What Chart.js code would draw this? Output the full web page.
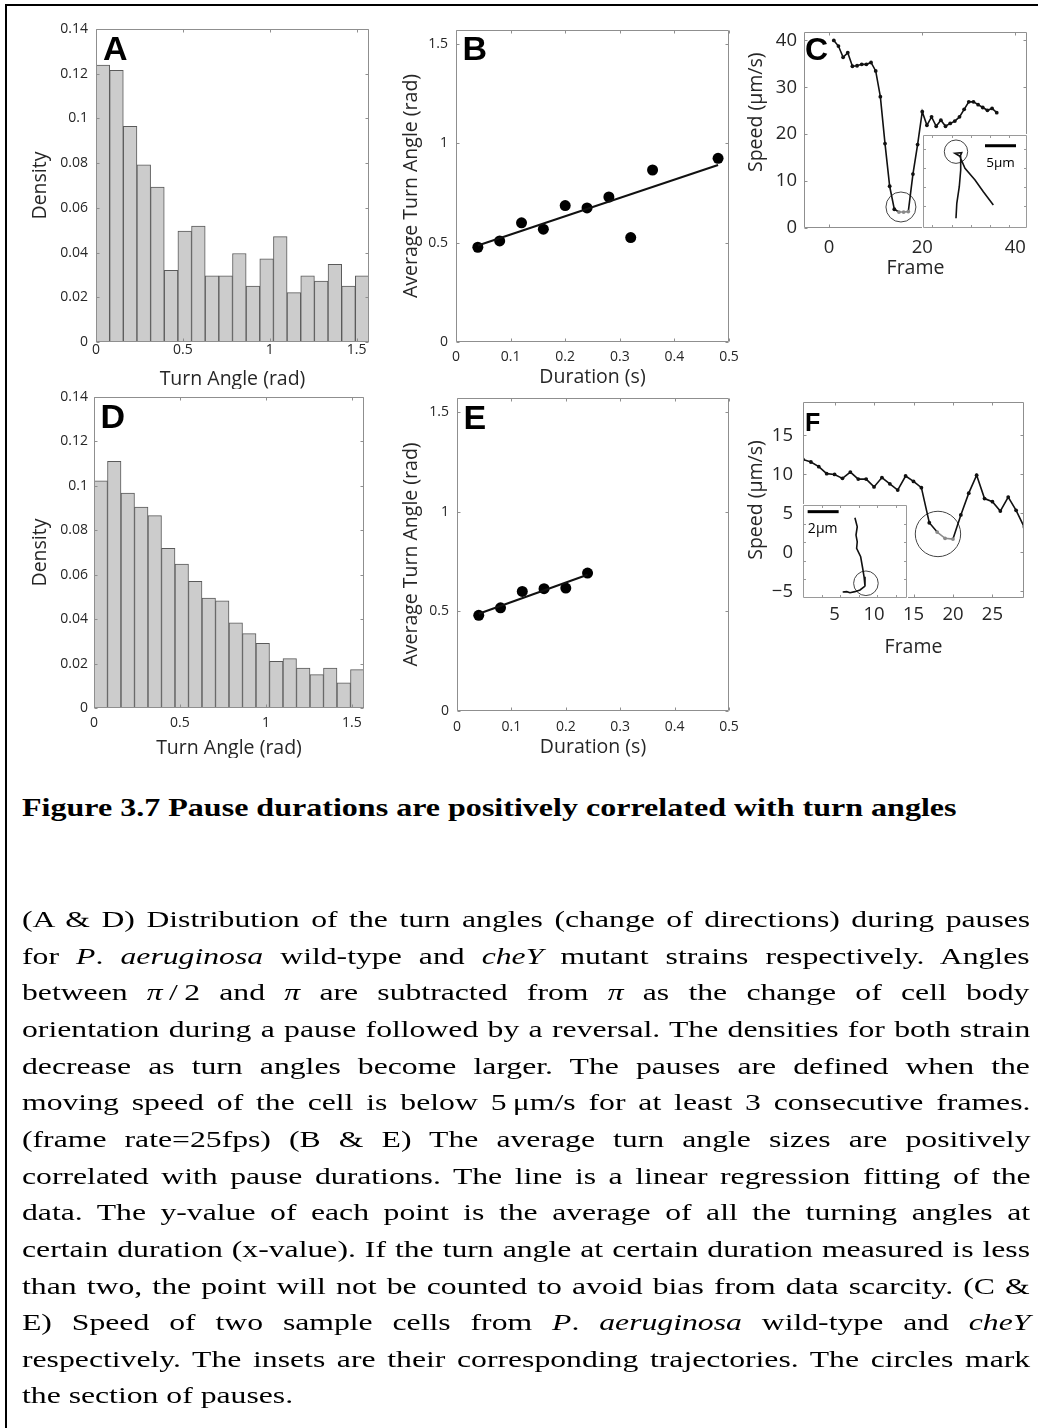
<!DOCTYPE html>
<html>
<head>
<meta charset="utf-8">
<script src="https://cdn.jsdelivr.net/npm/chart.js@4.4.1/dist/chart.umd.min.js"></script>
<style>
  html, body { margin: 0; padding: 0; background: #fff; }
  body { width: 1038px; height: 1428px; position: relative; overflow: hidden; }
  #frame { position: absolute; left: 5px; top: 4px; width: 1100px; height: 1500px;
           border-left: 2px solid #000; border-top: 2px solid #000; }
  canvas { position: absolute; }
  canvas.inset { background: #fff; z-index: 2; }
  .serif { font-family: "Liberation Serif", "Times New Roman", serif; color: #000; }
  #caption { position: absolute; left: 21.7px; top: 0; width: 1100px; height: 1428px; transform-origin: 0 0; }
  #title { position: absolute; left: 21.7px; top: 0; font-weight: bold; line-height: 1; white-space: nowrap; transform-origin: 0 0; }
  .ln { position: absolute; left: 0; line-height: 36.7px; height: 36.7px; white-space: nowrap; }
  .bl { display: inline-block; width: 0; height: 0; vertical-align: baseline; }
</style>
</head>
<body>
<div id="frame"></div>

<canvas id="chartA"></canvas>
<canvas id="chartB"></canvas>
<canvas id="chartC"></canvas>
<canvas id="chartD"></canvas>
<canvas id="chartE"></canvas>
<canvas id="chartF"></canvas>
<canvas id="insetC" class="inset"></canvas>
<canvas id="insetF" class="inset"></canvas>

<div id="title" class="serif">Figure 3.7 Pause durations are positively correlated with turn angles<span class="bl"></span></div>
<div id="caption" class="serif">
  <div class="ln"><span>(A &amp; D) Distribution of the turn angles (change of directions) during pauses</span><span class="bl"></span></div>
  <div class="ln"><span>for <i>P</i>. <i>aeruginosa</i> wild-type and <i>cheY</i> mutant strains respectively. Angles</span><span class="bl"></span></div>
  <div class="ln"><span>between <i>π</i>&#8201;/&#8201;2 and <i>π</i> are subtracted from <i>π</i> as the change of cell body</span><span class="bl"></span></div>
  <div class="ln"><span>orientation during a pause followed by a reversal. The densities for both strain</span><span class="bl"></span></div>
  <div class="ln"><span>decrease as turn angles become larger. The pauses are defined when the</span><span class="bl"></span></div>
  <div class="ln"><span>moving speed of the cell is below 5&#8201;μm/s for at least 3 consecutive frames.</span><span class="bl"></span></div>
  <div class="ln"><span>(frame rate=25fps) (B &amp; E) The average turn angle sizes are positively</span><span class="bl"></span></div>
  <div class="ln"><span>correlated with pause durations. The line is a linear regression fitting of the</span><span class="bl"></span></div>
  <div class="ln"><span>data. The y-value of each point is the average of all the turning angles at</span><span class="bl"></span></div>
  <div class="ln"><span>certain duration (x-value). If the turn angle at certain duration measured is less</span><span class="bl"></span></div>
  <div class="ln"><span>than two, the point will not be counted to avoid bias from data scarcity. (C &amp;</span><span class="bl"></span></div>
  <div class="ln"><span>E) Speed of two sample cells from <i>P</i>. <i>aeruginosa</i> wild-type and <i>cheY</i></span><span class="bl"></span></div>
  <div class="ln"><span>respectively. The insets are their corresponding trajectories. The circles mark</span><span class="bl"></span></div>
  <div class="ln last"><span>the section of pauses.</span><span class="bl"></span></div>
</div>

<script>
// ---- data ----
// histogram bin centres (20 bins of pi/40 between 0 and pi/2)
const binCenters = [0.0393, 0.1178, 0.1963, 0.2749, 0.3534, 0.4320, 0.5105, 0.5890, 0.6676, 0.7461,
                    0.8247, 0.9032, 0.9817, 1.0603, 1.1388, 1.2174, 1.2959, 1.3744, 1.4530, 1.5315];
const densityA = [0.1239, 0.1215, 0.0965, 0.0792, 0.0693, 0.0321, 0.0496, 0.0518, 0.0296, 0.0296,
                  0.0396, 0.0250, 0.0372, 0.0471, 0.0221, 0.0296, 0.0273, 0.0347, 0.0250, 0.0296];
const densityD = [0.1023, 0.1110, 0.0968, 0.0905, 0.0866, 0.0719, 0.0648, 0.0570, 0.0495, 0.0482,
                  0.0383, 0.0335, 0.0291, 0.0210, 0.0222, 0.0180, 0.0150, 0.0180, 0.0113, 0.0173];

const durationB = [0.04, 0.08, 0.12, 0.16, 0.20, 0.24, 0.28, 0.32, 0.36, 0.48];
const angleB = [0.477, 0.509, 0.600, 0.568, 0.687, 0.675, 0.730, 0.526, 0.866, 0.925];
const fitDurB = [0.04, 0.48];
const fitAngleB = [0.486, 0.891];

const durationE = [0.04, 0.08, 0.12, 0.16, 0.20, 0.24];
const angleE = [0.480, 0.518, 0.600, 0.614, 0.617, 0.692];
const fitDurE = [0.04, 0.24];
const fitAngleE = [0.488, 0.684];

const frameC = [1, 2, 3, 4, 5, 6, 7, 8, 9, 10, 11, 12, 13, 14, 15, 16, 17, 18,
                19, 20, 21, 22, 23, 24, 25, 26, 27, 28, 29, 30, 31, 32, 33, 34, 35, 36];
const speedC = [40.0, 38.8, 36.4, 37.4, 34.5, 34.6, 34.9, 34.9, 35.3, 33.5, 28.0, 18.0, 8.9, 4.0, 3.4, 3.4, 3.5, 11.5,
                17.8, 24.8, 21.9, 23.7, 21.7, 23.0, 21.7, 22.3, 22.8, 23.7, 25.3, 26.9, 26.9, 26.3, 25.7, 25.1, 25.5, 24.6];
const pauseC = { frame: 15.42, speed: 4.48 };

const frameF = [1, 2, 3, 4, 5, 6, 7, 8, 9, 10, 11, 12, 13, 14, 15, 16, 17, 18, 19, 20, 21, 22, 23, 24, 25, 26, 27, 28, 29];
const speedF = [11.93, 11.6, 11.0, 10.1, 10.0, 9.5, 10.3, 9.4, 9.4, 8.4, 9.6, 8.8, 8.0, 9.8, 9.1, 8.3,
                3.8, 2.6, 1.8, 1.7, 4.8, 7.6, 9.9, 6.9, 6.5, 5.3, 7.1, 5.4, 3.3];
const pauseF = { frame: 18.1, speed: 2.36 };

// inset trajectories (micrometres)
const trajCx = [5.32, 5.45, 5.85, 6.08, 6.08, 5.16, 6.24, 5.97, 6.77, 8.39, 9.73, 11.34];
const trajCy = [1.56, 3.98, 6.66, 9.35, 11.5, 12.05, 12.15, 11.5, 9.63, 7.74, 5.85, 3.71];
const pauseTrajC = { x: 5.32, y: 12.31 };
const barC = { x: [10.0, 15.0], y: 13.27, label: '5μm', labelX: 12.5, labelY: 10.48 };

const trajFx = [3.35, 3.50, 3.42, 3.50, 3.46, 3.72, 3.85, 3.94, 4.00, 3.68, 3.35, 3.03, 2.82, 2.56];
const trajFy = [5.18, 4.60, 4.06, 3.63, 3.21, 2.66, 1.92, 1.37, 0.77, 0.52, 0.41, 0.34, 0.41, 0.39];
const pauseTrajF = { x: 4.06, y: 0.95 };
const barF = { x: [0.30, 2.30], y: 5.57, label: '2μm', labelX: 1.27, labelY: 4.45 };

// tick labels
const ticksAngle = [0, 0.5, 1, 1.5];
const ticksDensity = [0, 0.02, 0.04, 0.06, 0.08, 0.1, 0.12, 0.14];
const ticksDuration = [0, 0.1, 0.2, 0.3, 0.4, 0.5];
const ticksAvgAngle = [0, 0.5, 1, 1.5];
const ticksFrameC = [0, 20, 40];
const ticksSpeedC = [0, 10, 20, 30, 40];
const ticksFrameF = [5, 10, 15, 20, 25];
const ticksSpeedF = [-5, 0, 5, 10, 15];
const ticksInsetC = { x: [1.5, 4.6, 7.7, 10.8, 13.9], y: [3.5, 6.6, 9.7, 12.8] };
const ticksInsetF = { x: [1.2, 2.4, 3.6, 4.8, 6.0], y: [1.2, 2.4, 3.6, 4.8] };

// ---- style ----
const FONT = '"Open Sans", "Noto Sans", sans-serif';
const TXT = '#262626';
const BOX = '#8f8f8f';
const INK = '#111111';
const PAUSE = '#8a8a8a';
const pauseSpeed = 3.7;

const fmt = v => (v < 0 ? '\u2212' + (-v) : String(v));

// MATLAB style box with inward ticks on all four sides
const boxPlugin = {
  id: 'box',
  afterDatasetsDraw(chart, args, o) {
    if (!o || !o.color) return;
    const { ctx, chartArea: a, scales } = chart;
    const l = Math.round(a.left) + 0.5, r = Math.round(a.right) - 0.5;
    const t = Math.round(a.top) + 0.5, b = Math.round(a.bottom) - 0.5;
    ctx.save();
    ctx.strokeStyle = o.color;
    ctx.lineWidth = 1;
    ctx.beginPath();
    ctx.rect(l, t, r - l, b - t);
    (o.xTicks || []).forEach(v => {
      const x = Math.round(scales.x.getPixelForValue(v)) + 0.5;
      ctx.moveTo(x, b); ctx.lineTo(x, b - o.len);
      ctx.moveTo(x, t); ctx.lineTo(x, t + o.len);
    });
    (o.yTicks || []).forEach(v => {
      const y = Math.round(scales.y.getPixelForValue(v)) + 0.5;
      ctx.moveTo(l, y); ctx.lineTo(l + o.len, y);
      ctx.moveTo(r, y); ctx.lineTo(r - o.len, y);
    });
    ctx.stroke();
    ctx.restore();
  }
};

// bold panel letter and small text notes placed in data space
const letterPlugin = {
  id: 'letter',
  afterDraw(chart, args, o) {
    const { ctx, chartArea: a, scales } = chart;
    ctx.save();
    if (o && o.text) {
      ctx.font = 'bold ' + o.size + 'px "Liberation Sans", Arial, sans-serif';
      ctx.fillStyle = '#000';
      ctx.textBaseline = 'alphabetic';
      ctx.fillText(o.text, a.left + o.dx, a.top + o.dy);
    }
    if (o && o.notes) {
      o.notes.forEach(n => {
        ctx.font = n.size + 'px ' + FONT;
        ctx.fillStyle = '#000';
        ctx.textAlign = 'center';
        ctx.textBaseline = 'middle';
        ctx.fillText(n.text, scales.x.getPixelForValue(n.x), scales.y.getPixelForValue(n.y));
      });
    }
    ctx.restore();
  }
};

Chart.register(boxPlugin, letterPlugin);

function makePanel(id, g, ax, type, datasets) {
  const cv = document.getElementById(id);
  const left = Math.round(g.yTitleX - ax.titleSize / 2);
  const top = g.T - 14;
  const right = g.R + 16;
  const bottom = Math.round(g.xTitleY + ax.titleSize / 2);
  cv.width = right - left;
  cv.height = bottom - top;
  cv.style.left = left + 'px';
  cv.style.top = top + 'px';
  cv.style.width = (right - left) + 'px';
  cv.style.height = (bottom - top) + 'px';

  const tickFont = { family: FONT, size: ax.tickSize, lineHeight: 1.2 };
  const titleFont = { family: FONT, size: ax.titleSize, lineHeight: 1 };

  return new Chart(cv, {
    type: type,
    data: { datasets: datasets },
    options: {
      responsive: false,
      animation: false,
      events: [],
      layout: { autoPadding: false, padding: { left: 0, bottom: 0, top: g.T - top, right: right - g.R } },
      plugins: {
        legend: { display: false },
        tooltip: { enabled: false },
        box: { xTicks: ax.xTicks, yTicks: ax.yTicks, len: 3, color: BOX },
        letter: { text: g.letter, size: g.letterSize, dx: g.dx, dy: g.dy }
      },
      scales: {
        x: {
          type: 'linear', position: 'bottom', min: ax.xMin, max: ax.xMax, offset: false,
          grid: { display: false, drawTicks: false, offset: false }, border: { display: false },
          afterBuildTicks: s => { s.ticks = ax.xTicks.map(v => ({ value: v })); },
          afterFit: s => { s.height = bottom - g.B; s.paddingLeft = 0; s.paddingRight = 0; },
          ticks: { padding: g.xTickCY - g.B - 0.6 * ax.tickSize, font: tickFont, color: TXT,
                   callback: fmt, maxRotation: 0, autoSkip: false },
          title: { display: true, text: ax.xTitle, font: titleFont, color: TXT, padding: 0 }
        },
        y: {
          type: 'linear', position: 'left', min: ax.yMin, max: ax.yMax,
          grid: { display: false, drawTicks: false }, border: { display: false },
          afterBuildTicks: s => { s.ticks = ax.yTicks.map(v => ({ value: v })); },
          afterFit: s => { s.width = g.L - left; s.paddingTop = 0; s.paddingBottom = 0; },
          ticks: { padding: g.L - g.yTickRight, font: tickFont, color: TXT, callback: fmt, autoSkip: false },
          title: { display: true, text: ax.yTitle, font: titleFont, color: TXT, padding: 0 }
        }
      }
    }
  });
}

function makeInset(id, r, xMax, yMax, ticks, notes, datasets) {
  const cv = document.getElementById(id);
  const w = r.R - r.L + 2, h = r.B - r.T + 2;
  cv.width = w; cv.height = h;
  cv.style.left = (r.L - 1) + 'px';
  cv.style.top = (r.T - 1) + 'px';
  cv.style.width = w + 'px';
  cv.style.height = h + 'px';
  return new Chart(cv, {
    type: 'scatter',
    data: { datasets: datasets },
    options: {
      responsive: false,
      animation: false,
      events: [],
      layout: { autoPadding: false, padding: 1 },
      plugins: {
        legend: { display: false },
        tooltip: { enabled: false },
        box: { xTicks: ticks.x, yTicks: ticks.y, len: 2.5, color: '#9a9a9a' },
        letter: { notes: notes }
      },
      scales: {
        x: { type: 'linear', display: false, min: 0, max: xMax },
        y: { type: 'linear', display: false, min: 0, max: yMax }
      }
    }
  });
}

function histSet(values) {
  return [{
    data: binCenters.map((x, i) => ({ x: x, y: values[i] })),
    backgroundColor: '#cccccc',
    borderColor: '#5a5a5a',
    borderWidth: 1,
    barPercentage: 1,
    categoryPercentage: 1,
    grouped: false
  }];
}

function fitSets(xs, ys, fx, fy) {
  return [
    {
      data: fx.map((x, i) => ({ x: x, y: fy[i] })),
      showLine: true, borderColor: INK, borderWidth: 2, pointRadius: 0
    },
    {
      data: xs.map((x, i) => ({ x: x, y: ys[i] })),
      showLine: false, pointRadius: 5.5, pointBackgroundColor: '#000', pointBorderColor: '#000', pointBorderWidth: 0
    }
  ];
}

function speedSets(frames, speeds, pause, circleR) {
  return [
    {
      data: frames.map((f, i) => ({ x: f, y: speeds[i] })),
      showLine: true, borderColor: INK, borderWidth: 1.6, tension: 0,
      pointRadius: 1.9, pointBorderWidth: 0,
      pointBackgroundColor: c => (c.raw && c.raw.y < pauseSpeed ? PAUSE : INK),
      segment: {
        borderColor: c => (c.p0.parsed.y < pauseSpeed && c.p1.parsed.y < pauseSpeed ? PAUSE : INK)
      }
    },
    {
      data: [{ x: pause.frame, y: pause.speed }],
      showLine: false, pointRadius: circleR, pointBorderColor: '#444',
      pointBackgroundColor: 'rgba(0,0,0,0)', pointBorderWidth: 1, clip: false
    }
  ];
}

function trajSets(xs, ys, pause, circleR, bar) {
  return [
    {
      data: xs.map((x, i) => ({ x: x, y: ys[i] })),
      showLine: true, borderColor: INK, borderWidth: 1.6, pointRadius: 0, tension: 0
    },
    {
      data: [{ x: pause.x, y: pause.y }],
      showLine: false, pointRadius: circleR, pointBorderColor: '#444',
      pointBackgroundColor: 'rgba(0,0,0,0)', pointBorderWidth: 1, clip: false
    },
    {
      data: bar.x.map(x => ({ x: x, y: bar.y })),
      showLine: true, borderColor: '#000', borderWidth: 3, pointRadius: 0, borderCapStyle: 'butt'
    }
  ];
}

const histAxes = {
  xMin: 0, xMax: 1.5708, yMin: 0, yMax: 0.14, xTicks: ticksAngle, yTicks: ticksDensity,
  xTitle: 'Turn Angle (rad)', yTitle: 'Density', tickSize: 14, titleSize: 19.5
};
const avgAxes = {
  xMin: 0, xMax: 0.5, yMin: 0, yMax: 1.5708, xTicks: ticksDuration, yTicks: ticksAvgAngle,
  xTitle: 'Duration (s)', yTitle: 'Average Turn Angle (rad)', tickSize: 14, titleSize: 19.5
};

makePanel('chartA',
  { L: 96, T: 29, R: 369, B: 342, yTitleX: 41, xTitleY: 379, xTickCY: 350, yTickRight: 88,
    letter: 'A', letterSize: 34, dx: 7, dy: 31 },
  histAxes, 'bar', histSet(densityA));

makePanel('chartD',
  { L: 94, T: 397, R: 364, B: 708, yTitleX: 41, xTitleY: 748, xTickCY: 723, yTickRight: 88,
    letter: 'D', letterSize: 34, dx: 6.5, dy: 31 },
  histAxes, 'bar', histSet(densityD));

makePanel('chartB',
  { L: 456, T: 30, R: 729, B: 342, yTitleX: 412, xTitleY: 377, xTickCY: 357, yTickRight: 448,
    letter: 'B', letterSize: 34, dx: 6.5, dy: 30 },
  avgAxes, 'scatter', fitSets(durationB, angleB, fitDurB, fitAngleB));

makePanel('chartE',
  { L: 457, T: 398, R: 729, B: 711, yTitleX: 412, xTitleY: 747, xTickCY: 727, yTickRight: 449,
    letter: 'E', letterSize: 34, dx: 6.5, dy: 31 },
  avgAxes, 'scatter', fitSets(durationE, angleE, fitDurE, fitAngleE));

// C's y title sits above the axis centre in the source; leading no-break spaces shift it up
makePanel('chartC',
  { L: 804, T: 32, R: 1027, B: 228, yTitleX: 757, xTitleY: 268, xTickCY: 248, yTickRight: 797,
    letter: 'C', letterSize: 32, dx: 1, dy: 28 },
  { xMin: -5.4, xMax: 42.5, yMin: 0, yMax: 41.8, xTicks: ticksFrameC, yTicks: ticksSpeedC,
    xTitle: 'Frame', yTitle: '\u00a0\u00a0\u00a0\u00a0\u00a0\u00a0\u00a0Speed (μm/s)', tickSize: 18.5, titleSize: 19.5 },
  'scatter', speedSets(frameC, speedC, pauseC, 15));

makePanel('chartF',
  { L: 803, T: 402, R: 1024, B: 598, yTitleX: 757, xTitleY: 647, xTickCY: 615, yTickRight: 793,
    letter: 'F', letterSize: 25, dx: 2, dy: 29 },
  { xMin: 1, xMax: 29, yMin: -5.86, yMax: 19.3, xTicks: ticksFrameF, yTicks: ticksSpeedF,
    xTitle: 'Frame', yTitle: 'Speed (μm/s)', tickSize: 18.5, titleSize: 19.5 },
  'scatter', speedSets(frameF, speedF, pauseF, 22.7));

makeInset('insetC', { L: 923, T: 135, R: 1027, B: 228 }, 16.77, 15.0, ticksInsetC,
  [{ text: barC.label, x: barC.labelX, y: barC.labelY, size: 13.5 }],
  trajSets(trajCx, trajCy, pauseTrajC, 11.7, barC));

makeInset('insetF', { L: 803, T: 505, R: 907, B: 598 }, 6.71, 6.0, ticksInsetF,
  [{ text: barF.label, x: barF.labelX, y: barF.labelY, size: 14 }],
  trajSets(trajFx, trajFy, pauseTrajF, 12.3, barF));

// ---- caption: per-line justification, scaled horizontally like the source scan ----
(function layoutCaption() {
  function hasFont(name) {
    const c = document.createElement('canvas').getContext('2d');
    const s = 'abcdefghijklmnopqrstuvwxyzABCDEFGH0123456789';
    c.font = '40px monospace';
    const w0 = c.measureText(s).width;
    c.font = '40px "' + name + '", monospace';
    return c.measureText(s).width !== w0;
  }
  // pick an installed serif and its cap-height ratio
  let family = 'DejaVu Serif', capRatio = 0.729;
  if (hasFont('Liberation Serif')) { family = 'Liberation Serif'; capRatio = 0.662; }
  else if (hasFont('Times New Roman')) { family = 'Times New Roman'; capRatio = 0.662; }

  const cap = document.getElementById('caption');
  const title = document.getElementById('title');
  cap.style.fontFamily = '"' + family + '", serif';
  title.style.fontFamily = '"' + family + '", serif';

  const lines = Array.from(cap.querySelectorAll('.ln'));
  const lineGap = 36.65, firstBaseline = 927, target = 1008;
  const bodySize = 15 / capRatio;

  lines.forEach(ln => { ln.style.fontSize = bodySize + 'px'; });
  lines.forEach((ln, i) => {
    const bl = ln.querySelector('.bl').offsetTop;
    ln.style.top = (firstBaseline + i * lineGap - bl) + 'px';
  });
  const widths = lines.map(ln => ln.firstElementChild.offsetWidth);
  const widest = Math.max.apply(null, widths.slice(0, -1));
  const S = Math.min(1.4, Math.max(0.6, target / widest * 0.998));
  cap.style.transform = 'scaleX(' + S + ')';
  const inner = target / S;
  lines.forEach((ln, i) => {
    if (ln.classList.contains('last')) return;
    const span = ln.firstElementChild;
    const spaces = (span.textContent.match(/ /g) || []).length;
    if (spaces) span.style.wordSpacing = ((inner - widths[i]) / spaces) + 'px';
  });

  // title: bold, cap height ~17px, spanning x 21.7 .. 956
  const titleSize = 16.5 / capRatio;
  title.style.fontSize = titleSize + 'px';
  const tw = title.offsetWidth;
  title.style.transform = 'scaleX(' + (934 / tw) + ')';
  const tbl = title.querySelector('.bl').offsetTop;
  title.style.top = (816 - tbl) + 'px';
})();
</script>
</body>
</html>
